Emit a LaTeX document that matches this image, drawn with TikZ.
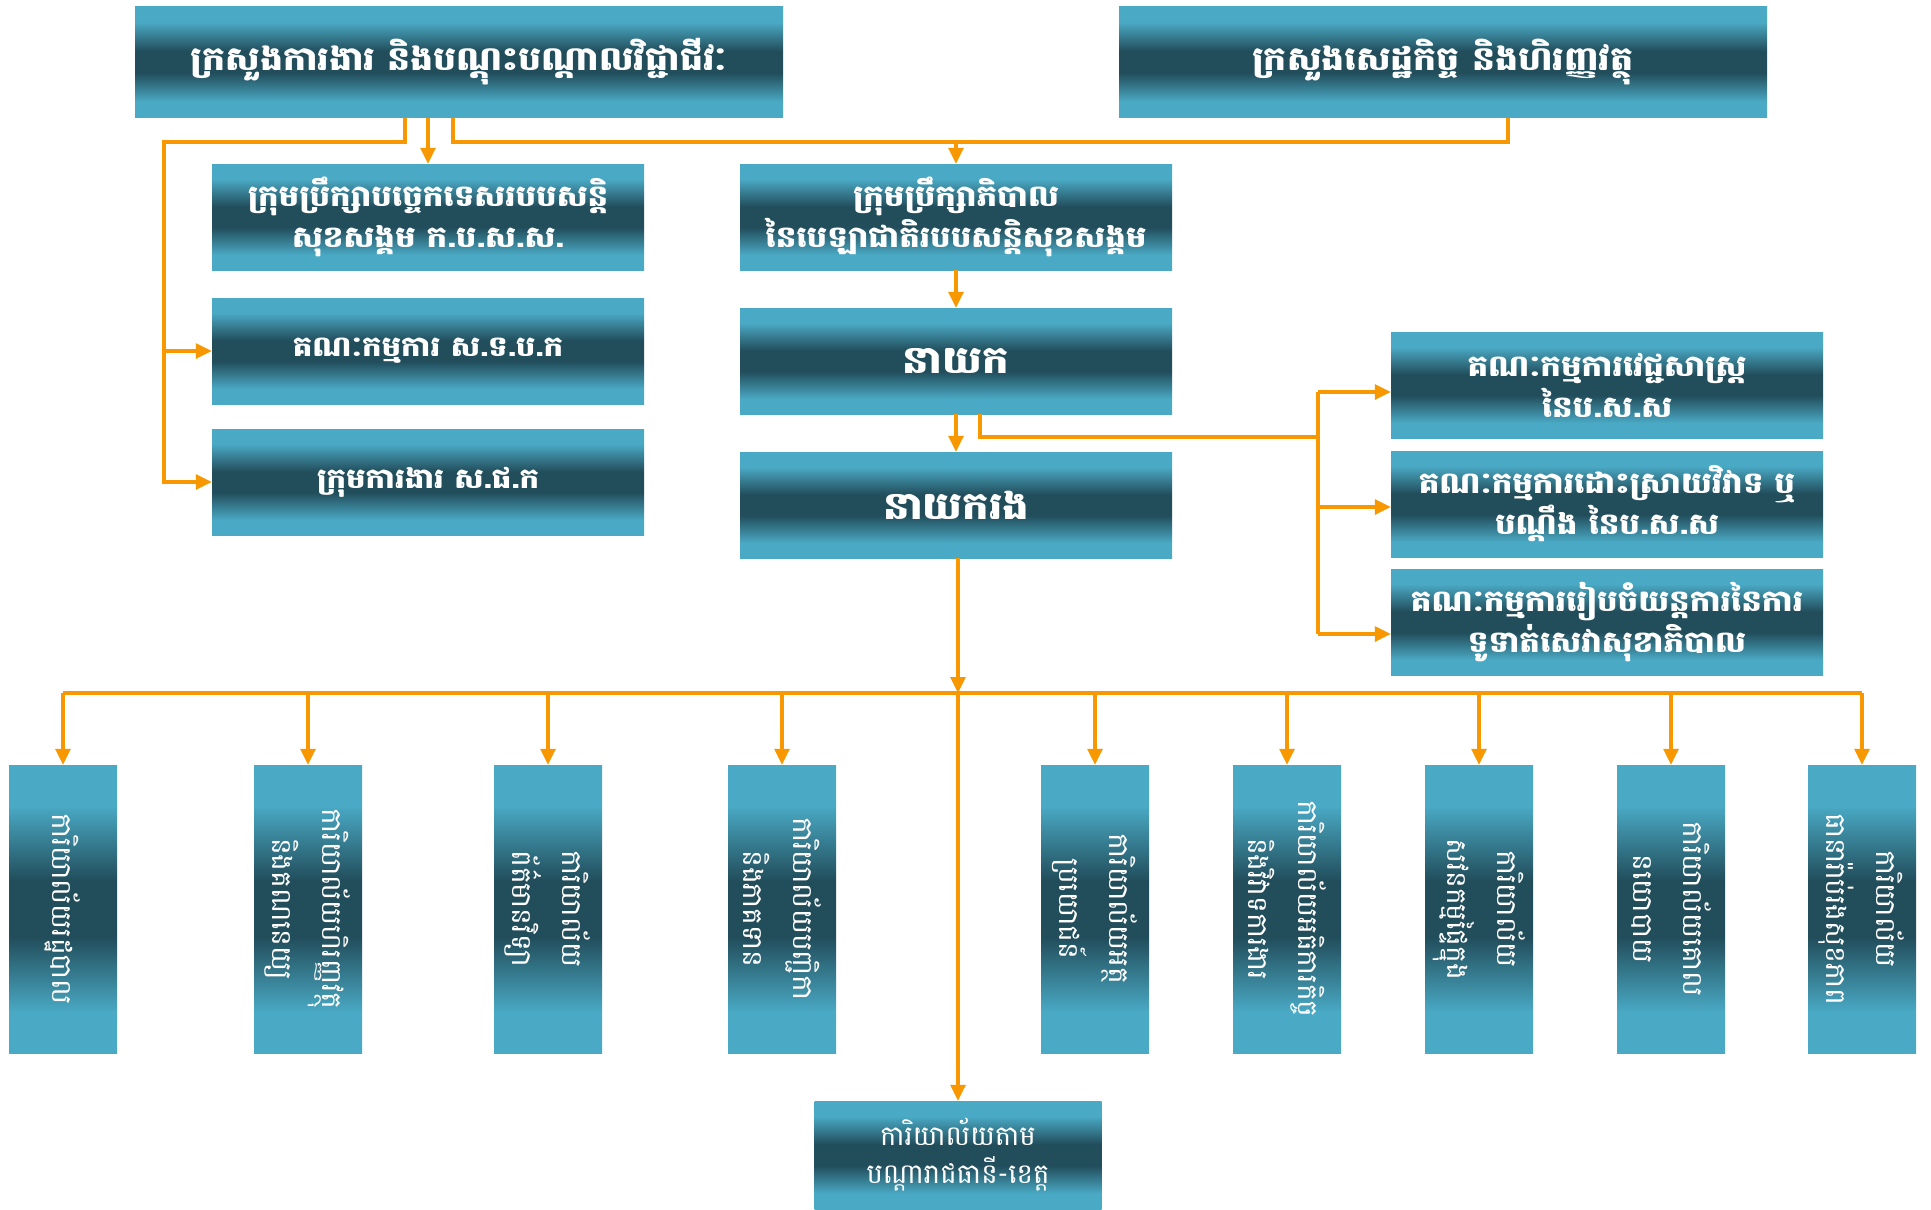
\documentclass[tikz,border=0pt]{standalone}
\usepackage{fontspec}
\newfontfamily\khmer[Script=Khmer]{Battambang}
\newfontfamily\khmerb[Script=Khmer,FakeStretch=1.1]{Battambang}
\usetikzlibrary{arrows.meta}
\definecolor{tlight}{RGB}{74,170,197}
\definecolor{tdark}{RGB}{34,78,92}
\definecolor{conn}{RGB}{248,152,0}
\pgfdeclareverticalshading{tealv}{100bp}{color(0bp)=(tlight); color(25bp)=(tlight); color(32bp)=(tlight); color(45bp)=(tdark); color(55bp)=(tdark); color(68bp)=(tlight); color(75bp)=(tlight); color(100bp)=(tlight)}
\tikzset{
  hbox/.style={rectangle, shading=tealv, inner sep=0pt, minimum width=432pt, minimum height=106pt,
    text=white, align=center, font=\khmerb\bfseries\fontsize{29.5}{41}\selectfont},
  vbox/.style={rectangle, shading=tealv, rotate=-90, inner sep=0pt, minimum width=288pt, minimum height=108pt,
    text=white, align=center, font=\khmer\fontsize{28}{50}\selectfont},
  line/.style={draw=conn, line width=3.2pt},
  arr/.style={line, -{Triangle[length=16pt, width=15pt]}},
}
\begin{document}
\begin{tikzpicture}[x=1pt, y=-1pt]
\useasboundingbox (0,0) rectangle (1931,1210);
% top ministries
\node[hbox, minimum width=648pt, minimum height=111pt, font=\khmerb\bfseries\fontsize{33}{41}\selectfont] (mol) at (459,62) {ក្រសួងការងារ និងបណ្តុះបណ្តាលវិជ្ជាជីវៈ};
\node[hbox, minimum width=648pt, minimum height=111pt, font=\khmerb\bfseries\fontsize{33}{41}\selectfont] (mef) at (1443,62) {ក្រសួងសេដ្ឋកិច្ច និងហិរញ្ញវត្ថុ};
% left column
\node[hbox] (tech) at (428,217) {ក្រុមប្រឹក្សាបច្ចេកទេសរបបសន្តិ\\សុខសង្គម ក.ប.ស.ស.};
\node[hbox, font=\khmerb\bfseries\fontsize{28}{41}\selectfont] (comm) at (428,351) {គណៈកម្មការ ស.ទ.ប.ក};
\node[hbox, font=\khmerb\bfseries\fontsize{28}{41}\selectfont] (work) at (428,482) {ក្រុមការងារ ស.ផ.ក};
% centre column
\node[hbox] (board) at (956,217) {ក្រុមប្រឹក្សាភិបាល\\នៃបេឡាជាតិរបបសន្តិសុខសង្គម};
\node[hbox, font=\khmerb\bfseries\fontsize{38}{41}\selectfont] (dir) at (956,361) {នាយក};
\node[hbox, font=\khmerb\bfseries\fontsize{38}{41}\selectfont] (dep) at (956,505) {នាយករង};
% right column
\node[hbox] (med) at (1607,385) {គណៈកម្មការវេជ្ជសាស្ត្រ\\នៃប.ស.ស};
\node[hbox] (disp) at (1607,504) {គណៈកម្មការដោះស្រាយវិវាទ ឬ\\បណ្តឹង នៃប.ស.ស};
\node[hbox] (pay) at (1607,622) {គណៈកម្មការរៀបចំយន្តការនៃការ\\ទូទាត់សេវាសុខាភិបាល};
% offices (rotated boxes, top edge = west anchor)
\node[vbox] (o1) at (63,909) {ការិយាល័យរដ្ឋបាល};
\node[vbox] (o2) at (308,909) {ការិយាល័យហិរញ្ញវត្ថុ\\និងគណនេយ្យ};
\node[vbox] (o3) at (548,909) {ការិយាល័យ\\ព័ត៌មានវិទ្យា};
\node[vbox] (o4) at (782,909) {ការិយាល័យបញ្ជិកា\\និងភាគទាន};
\node[vbox] (o5) at (1095,909) {ការិយាល័យអត្ថ\\ប្រយោជន៍};
\node[vbox] (o6) at (1287,909) {ការិយាល័យអធិការកិច្ច\\និងវិវាទការងារ};
\node[vbox] (o7) at (1479,909) {ការិយាល័យ\\សវនកម្មផ្ទៃក្នុង};
\node[vbox] (o8) at (1671,909) {ការិយាល័យគោល\\នយោបាយ};
\node[vbox] (o9) at (1862,909) {ការិយាល័យ\\ធានារ៉ាប់រងសុខភាព};
\node[hbox, minimum width=287pt, minimum height=108pt, font=\khmer\fontsize{27.5}{38}\selectfont] (prov) at (958,1155) {ការិយាល័យតាម\\បណ្តារាជធានី-ខេត្ត};
% connectors from ministries
\coordinate (jl) at (164,142);
\coordinate (jt) at (1508,142);
\draw[arr] ([xshift=-54pt]mol.south) |- (jl) |- (work.west);
\draw[arr] (jl |- comm.west) -- (comm.west);
\draw[arr] (tech.north |- mol.south) -- (tech.north);
\draw[line] ([xshift=-6pt]mol.south) |- (jt) -- (jt |- mef.south);
\draw[arr] (board.north |- jt) -- (board.north);
\draw[arr] (board) -- (dir);
\draw[arr] (dir) -- (dep);
% committees on the right
\coordinate (jr) at (1318,437);
\coordinate (g1) at (1318,392);
\coordinate (g2) at (1318,507);
\coordinate (g3) at (1318,634);
\draw[line] ([xshift=24pt]dir.south) |- (jr);
\draw[line] (g1) -- (g3);
\draw[arr] (g1) -- (g1 -| med.west);
\draw[arr] (g2) -- (g2 -| disp.west);
\draw[arr] (g3) -- (g3 -| pay.west);
% bus to offices
\coordinate (bus) at (958,693);
\coordinate (busl) at (63,693);
\coordinate (busr) at (1862,693);
\draw[arr] ([xshift=2pt]dep.south) -- (bus);
\draw[line] (busl) -- (busr);
\foreach \o in {o1,o2,o3,o4,o5,o6,o7,o8,o9} {\draw[arr] (\o.west |- bus) -- (\o.west);}
\draw[arr] (bus) -- (prov.north);
\end{tikzpicture}
\end{document}
